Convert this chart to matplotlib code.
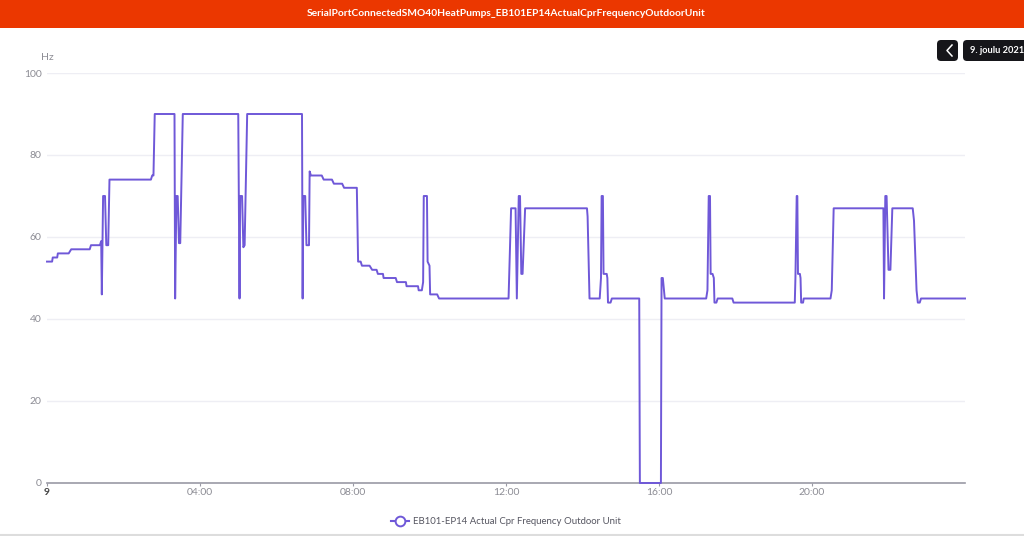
import matplotlib
matplotlib.use("Agg")
import matplotlib.pyplot as plt
from matplotlib.patches import Rectangle, FancyBboxPatch

plt.rcParams['font.family'] = ['Lato', 'DejaVu Sans']

TITLE = "SerialPortConnectedSMO40HeatPumps_EB101EP14ActualCprFrequencyOutdoorUnit"
SERIES_NAME = "EB101-EP14 Actual Cpr Frequency Outdoor Unit"
DATE_LABEL = "9. joulu 2021"

# minutes since midnight / Hz
minutes = [
    0, 8, 9, 16, 17, 34, 38, 67, 69, 83, 85, 86, 88, 91, 93, 96, 98,
    163, 165, 167, 169, 200, 201, 203, 205, 207, 209, 213,
    300, 302, 303, 306, 308, 310, 314,
    400, 401, 402, 405, 407, 411, 412, 414,
    431, 434, 447, 450, 463, 466, 486, 488, 492, 494, 506, 510, 517, 519,
    527, 528, 547, 549, 563, 564, 582, 583, 588, 590, 591, 596, 597, 600, 601,
    612, 615, 724, 728, 735, 737, 740, 742, 744, 746, 750,
    847, 848, 851, 867, 869, 870, 872, 873, 878, 879, 880, 884, 886,
    929, 930, 963, 964, 966, 969,
    1034, 1036, 1038, 1040, 1041, 1044, 1046, 1047, 1050, 1052, 1075, 1077,
    1173, 1174, 1176, 1177, 1178, 1181, 1182, 1183, 1186, 1187,
    1229, 1231, 1234, 1312, 1313, 1315, 1317, 1320, 1323, 1326,
    1358, 1360, 1364, 1366, 1369, 1371, 1440,
]
freq_hz = [
    54, 54, 55, 55, 56, 56, 57, 57, 58, 58, 59, 46, 70, 70, 58, 58, 74,
    74, 75, 75, 90, 90, 45, 70, 70, 58.5, 58.5, 90,
    90, 45, 70, 70, 57.5, 58, 90,
    90, 45, 70, 70, 58, 58, 76, 75,
    75, 74, 74, 73, 73, 72, 72, 54, 54, 53, 53, 52, 52, 51,
    51, 50, 50, 49, 49, 48, 48, 47, 47, 49, 70, 70, 54, 53, 46,
    46, 45, 45, 67, 67, 45, 70, 70, 51, 51, 67,
    67, 65, 45, 45, 50, 70, 70, 51, 51, 50, 44, 44, 45,
    45, 0, 0, 50, 50, 45,
    45, 47, 70, 70, 51, 51, 50, 44, 44, 45, 45, 44,
    44, 50, 70, 70, 51, 51, 50, 44, 44, 45,
    45, 47, 67, 67, 45, 70, 70, 52, 52, 67,
    67, 64, 47, 44, 44, 45, 45,
]

y_ticks = [0, 20, 40, 60, 80, 100]
x_ticks = [0, 240, 480, 720, 960, 1200]
x_labels = ["9", "04:00", "08:00", "12:00", "16:00", "20:00"]

LINE_COLOR = "#6f58d8"
GREY = "#8c8c94"

fig = plt.figure(figsize=(10.24, 5.36), dpi=100)
ax = fig.add_axes([47 / 1024, 53 / 536, 918 / 1024, 410 / 536])

ax.plot(minutes, freq_hz, color=LINE_COLOR, linewidth=1.4, solid_joinstyle="round",
        clip_on=False, zorder=4)

ax.set_xlim(0, 1440)
ax.set_ylim(0, 100)
ax.set_yticks(y_ticks)
ax.set_xticks(x_ticks)
ax.set_xticklabels(x_labels)
ax.grid(axis="y", color="#eeeef4", linewidth=1)
ax.set_axisbelow(True)
for side in ["top", "right", "left"]:
    ax.spines[side].set_visible(False)
ax.spines["bottom"].set_color("#9a9aa5")
ax.spines["bottom"].set_linewidth(1.2)
ax.tick_params(axis="y", length=0, labelsize=7.5, labelcolor=GREY, pad=4)
ax.tick_params(axis="x", length=2, color="#9a9aa5", labelsize=7.5, labelcolor=GREY, pad=1.5)
ax.get_xticklabels()[0].set_fontweight("bold")
ax.get_xticklabels()[0].set_color("#444444")

fig.text(47 / 1024, 1 - 57 / 536, "Hz", fontsize=7.5, color=GREY, ha="center", va="center")

# header band
fig.add_artist(Rectangle((0, 1 - 28 / 536), 1, 28 / 536, transform=fig.transFigure,
                         facecolor="#eb3700", edgecolor="none"))
fig.text(506 / 1024, 1 - 14 / 536, TITLE, fontsize=7.35, fontweight="bold", color="white",
         ha="center", va="center")

# date navigation, in pixels of the figure
def badge(x0, y0, w, h):
    fig.add_artist(FancyBboxPatch((x0, 536 - y0 - h), w, h, boxstyle="round,pad=0,rounding_size=4",
                                  transform=None, facecolor="#16161a", edgecolor="none"))

badge(937, 40, 21, 21)
badge(963, 40, 80, 21)
fig.add_artist(plt.Line2D([952 / 1024, 947 / 1024, 952 / 1024],
                          [1 - 45 / 536, 1 - 50.5 / 536, 1 - 56 / 536],
                          transform=fig.transFigure, color="white", linewidth=1.1))
fig.text(970 / 1024, 1 - 50.5 / 536, DATE_LABEL, fontsize=6.7, fontweight="bold", color="white",
         ha="left", va="center")

# legend
handle = plt.Line2D([], [], color=LINE_COLOR, linewidth=1.5, marker="o", markersize=7,
                    markerfacecolor="white", markeredgecolor=LINE_COLOR, markeredgewidth=1.4)
fig.legend([handle], [SERIES_NAME], loc="center", bbox_to_anchor=(506 / 1024, 1 - 522 / 536),
           frameon=False, fontsize=6.9, labelcolor="#555560", handlelength=1.9, handletextpad=0.4)

# thin rule along the bottom edge
fig.add_artist(plt.Line2D([0, 1], [1 - 535 / 536, 1 - 535 / 536], transform=fig.transFigure,
                          color="#dddddd", linewidth=1.5))

fig.savefig("out.png", dpi=100)
